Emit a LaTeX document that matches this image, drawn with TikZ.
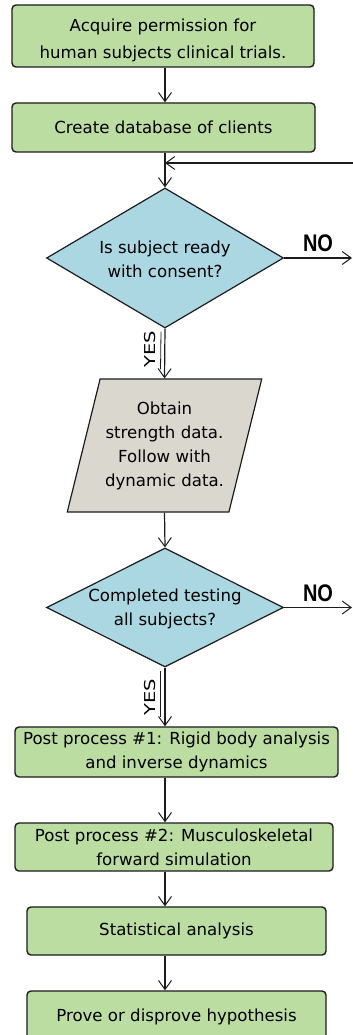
\documentclass[tikz,border=0pt]{standalone}
\usepackage{fontspec}
\setmainfont{DejaVu Sans}
\newfontfamily\labelfont{Liberation Sans}
\usetikzlibrary{shapes.geometric,arrows.meta,calc}

\definecolor{procgreen}{RGB}{188,221,162}
\definecolor{decblue}{RGB}{170,215,226}
\definecolor{iogray}{RGB}{218,215,206}
\definecolor{ink}{RGB}{28,28,28}

\begin{document}
\begin{tikzpicture}[x=1pt,y=-1pt,
  font=\fontsize{16.6}{24}\selectfont,
  process/.style={draw=ink, line width=1.4pt, fill=procgreen, rounded corners=4pt,
    align=center, inner sep=0pt},
  decision/.style={diamond, draw=ink, line width=1.2pt, fill=decblue, inner sep=0pt},
  iobox/.style={trapezium, trapezium left angle=71, trapezium right angle=109,
    trapezium stretches=true, draw=ink, line width=1.2pt, fill=iogray,
    align=center, inner sep=0pt},
  flow/.style={draw=ink, line width=1.2pt,
    -{Straight Barb[length=9pt,width=13pt,line width=1pt]}},
  guide/.style={draw=ink, line width=0.8pt},
  nolabel/.style={font=\labelfont\bfseries\fontsize{20}{20}\selectfont, inner sep=0pt},
  yeslabel/.style={rotate=90, font=\fontsize{15}{15}\selectfont, inner sep=0pt}
]
\useasboundingbox (0,0) rectangle (353,1035);
\clip (0,0) rectangle (353,1035);

% vertical main line of the flow
\coordinate (spine) at (165,0);

% steps
\node[process, minimum width=302pt, minimum height=62pt,
  label={[align=center, yshift=-4pt]center:{Acquire permission for\\[3pt]human subjects clinical trials.}}]
  (permit) at (163,36) {};
\node[process, minimum width=303pt, minimum height=49pt] (db) at (163.5,127.5)
  {Create database of clients};
\node[decision, minimum width=237pt, minimum height=140pt,
  label={[align=center, yshift=-1.5pt]center:{Is subject ready\\with consent?}}] (ready) at (165,258) {};
\node[iobox, minimum width=195pt, minimum height=133pt] (obtain) at (164.5,445.5)
  {Obtain\\strength data.\\Follow with\\dynamic data.};
\node[decision, minimum width=237pt, minimum height=119pt,
  label={[align=center, yshift=-1pt]center:{Completed testing\\all subjects?}}] (done) at (165,607.5) {};
\node[process, minimum width=323pt, minimum height=50pt] (pp1) at (176.5,752)
  {Post process \#1: Rigid body analysis\\and inverse dynamics};
\node[process, minimum width=318pt, minimum height=48pt] (pp2) at (174,847)
  {Post process \#2: Musculoskeletal\\forward simulation};
\node[process, minimum width=299pt, minimum height=48pt] (stats) at (176.5,931)
  {Statistical analysis};
\node[process, minimum width=299pt, minimum height=52pt] (prove) at (176.5,1017)
  {Prove or disprove hypothesis};

% branch labels
\node[nolabel] (no1) at (318,243) {\scalebox{1}[1.2]{NO}};
\node[nolabel] (no2) at (318,593) {\scalebox{1}[1.2]{NO}};
\node[yeslabel] (yes1) at (150,349) {\scalebox{1.3}[1]{YES}};
\node[yeslabel] (yes2) at (150,697) {\scalebox{1.3}[1]{YES}};

% loose ends at the right margin
\coordinate (retry) at (353,163);
\coordinate (noout1) at (352,258);
\coordinate (noout2) at (352,607.5);

% connectors
\draw[flow] (permit.south -| spine) -- (db.north -| spine);
\draw[flow] (db.south -| spine) -- (ready.north);
\draw[flow] (retry) -- (retry -| spine);
\draw[flow] (ready.east) -- (noout1);
\draw[flow] (ready.south) -- (obtain.north);
\draw[guide] ($(ready.south)+(-4,3)$) -- ($(obtain.north)+(-4,-9)$);
\draw[flow] (obtain.south) -- (done.north);
\draw[flow] (done.east) -- (noout2);
\draw[flow] (done.south) -- (pp1.north -| spine);
\draw[guide] ($(done.south)+(-5,3)$) -- ($(pp1.north -| spine)+(-5,-9)$);
\draw[flow] (pp1.south -| spine) -- (pp2.north -| spine);
\draw[flow] (pp2.south -| spine) -- (stats.north -| spine);
\draw[flow] (stats.south -| spine) -- (prove.north -| spine);
\end{tikzpicture}
\end{document}
